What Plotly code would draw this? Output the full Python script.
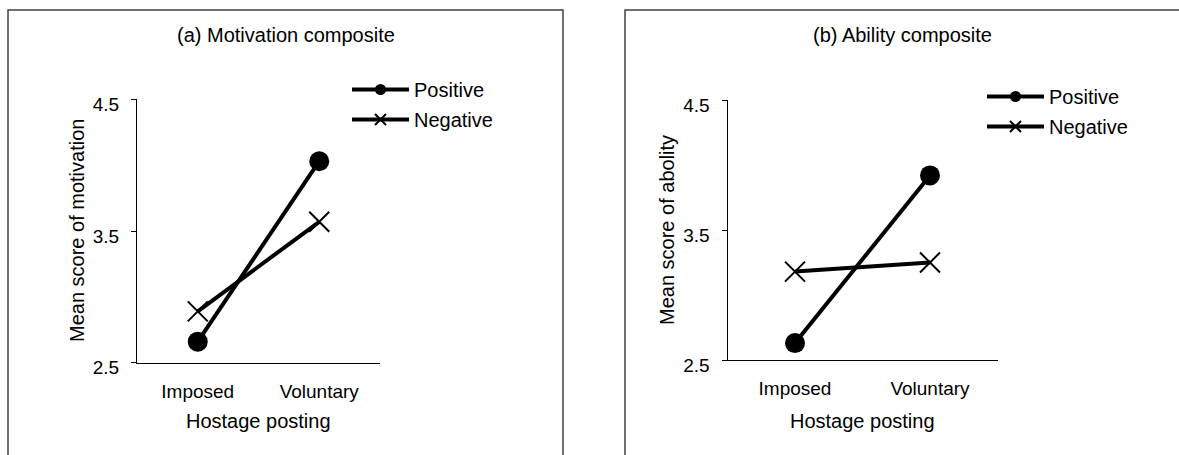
import plotly.graph_objects as go

W, H = 1179, 455

categories = ["Imposed", "Voluntary"]
series_names = ["Positive", "Negative"]
motivation_positive = [2.66, 4.03]
motivation_negative = [2.89, 3.57]
ability_positive = [2.63, 3.92]
ability_negative = [3.18, 3.25]
y_ticks = [2.5, 3.5, 4.5]
y_tick_labels = ["2.5", "3.5", "4.5"]

panel_titles = ["(a) Motivation composite", "(b) Ability composite"]
y_titles = ["Mean score of motivation", "Mean score of abolity"]
x_title = "Hostage posting"

FONT = "Arial, Liberation Sans, sans-serif"
FS = 19
FS2 = 20

def px_x(v):
    return v / W

def px_y(v):
    return 1 - v / H

fig = go.Figure()

panels = [
    dict(pos=motivation_positive, neg=motivation_negative, xa="x", ya="y", leg="legend"),
    dict(pos=ability_positive, neg=ability_negative, xa="x2", ya="y2", leg="legend2"),
]

for i, p in enumerate(panels):
    fig.add_trace(go.Scatter(
        x=categories, y=p["pos"], xaxis=p["xa"], yaxis=p["ya"],
        mode="lines+markers", showlegend=False,
        line=dict(color="black", width=4),
        marker=dict(symbol="circle", size=20, color="black"),
    ))
    fig.add_trace(go.Scatter(
        x=categories, y=p["neg"], xaxis=p["xa"], yaxis=p["ya"],
        mode="lines+markers", showlegend=False,
        line=dict(color="black", width=4),
        marker=dict(symbol="x-thin", size=20, color="black",
                    line=dict(color="black", width=2)),
    ))
    # legend entries
    fig.add_trace(go.Scatter(
        x=[None], y=[None], xaxis=p["xa"], yaxis=p["ya"], name=series_names[0],
        mode="lines+markers", legend=p["leg"], legendgroup="pos%d" % i,
        line=dict(color="black", width=4),
        marker=dict(symbol="circle", size=11, color="black"),
    ))
    fig.add_trace(go.Scatter(
        x=[None], y=[None], xaxis=p["xa"], yaxis=p["ya"], name=series_names[1],
        mode="lines+markers", legend=p["leg"], legendgroup="neg%d" % i,
        line=dict(color="black", width=4),
        marker=dict(symbol="x-thin", size=11, color="black",
                    line=dict(color="black", width=2)),
    ))

xdoms = [[px_x(137), px_x(380)], [px_x(727.5), px_x(997.5)]]
ydoms = [[px_y(362.7), px_y(99.3)], [px_y(360), px_y(100)]]

common_x = dict(
    type="category", range=[-0.5, 1.5], showline=True, linecolor="black", linewidth=1,
    ticks="", showgrid=False, zeroline=False, ticklabelstandoff=11, automargin=False,
    tickfont=dict(family=FONT, size=FS, color="black"), fixedrange=True,
)
common_y = dict(
    range=[2.5, 4.5], tickvals=y_ticks, ticktext=y_tick_labels,
    showline=True, linecolor="black", linewidth=1,
    ticks="outside", ticklen=5, tickcolor="black", tickwidth=1, automargin=False,
    showgrid=False, zeroline=False, ticklabelstandoff=8, ticklabelshift=5,
    tickfont=dict(family=FONT, size=FS, color="black"), fixedrange=True,
)

legend_common = dict(
    font=dict(family=FONT, size=FS2, color="black"),
    bgcolor="rgba(0,0,0,0)", borderwidth=0, itemwidth=57,
    traceorder="grouped", tracegroupgap=1,
    xanchor="left", yanchor="top", itemclick=False, itemdoubleclick=False,
)

fig.update_layout(
    template="none",
    width=W, height=H,
    margin=dict(l=0, r=0, t=0, b=0, pad=0, autoexpand=False),
    paper_bgcolor="white", plot_bgcolor="white",
    font=dict(family=FONT, size=FS, color="black"),
    xaxis=dict(domain=xdoms[0], anchor="y", **common_x),
    yaxis=dict(domain=ydoms[0], anchor="x", **common_y),
    xaxis2=dict(domain=xdoms[1], anchor="y2", **common_x),
    yaxis2=dict(domain=ydoms[1], anchor="x2", **common_y),
    legend=dict(x=px_x(347), y=px_y(70), **legend_common),
    legend2=dict(x=px_x(982), y=px_y(77), **legend_common),
    showlegend=True,
)

# panel frames
fig.add_shape(type="rect", xref="paper", yref="paper",
              x0=px_x(8), x1=px_x(563), y0=-0.1, y1=px_y(10),
              line=dict(color="#404040", width=1.5), fillcolor="rgba(0,0,0,0)")
fig.add_shape(type="rect", xref="paper", yref="paper",
              x0=px_x(625), x1=px_x(1185), y0=-0.1, y1=px_y(10),
              line=dict(color="#404040", width=1.5), fillcolor="rgba(0,0,0,0)")

# panel titles
for cx, t in zip([285.5, 902], panel_titles):
    fig.add_annotation(text=t, xref="paper", yref="paper", x=px_x(cx), y=px_y(35),
                       xanchor="center", yanchor="middle", showarrow=False,
                       font=dict(family=FONT, size=FS2, color="black"))

# y-axis titles
for cx, cy, t in zip([77, 667], [231, 230], y_titles):
    fig.add_annotation(text=t, xref="paper", yref="paper", x=px_x(cx), y=px_y(cy),
                       xanchor="center", yanchor="middle", showarrow=False, textangle=-90,
                       font=dict(family=FONT, size=FS2, color="black"))

# x-axis titles
for cx in [258.5, 862.5]:
    fig.add_annotation(text=x_title, xref="paper", yref="paper", x=px_x(cx), y=px_y(421),
                       xanchor="center", yanchor="middle", showarrow=False,
                       font=dict(family=FONT, size=FS2, color="black"))

fig.write_html("out.html", config={"displayModeBar": False},
               post_script="document.body.style.margin='0px';document.body.style.overflow='hidden';")
